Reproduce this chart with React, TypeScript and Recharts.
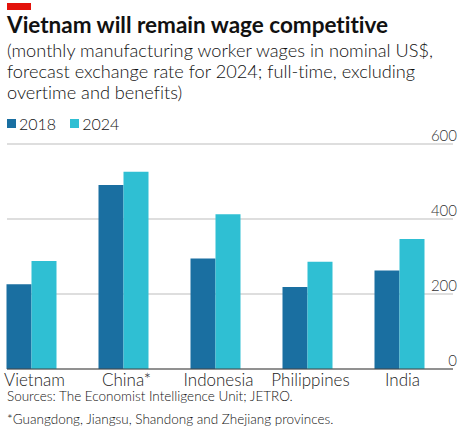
import React from "react";
import { BarChart, Bar, XAxis, YAxis, CartesianGrid } from "recharts";

const countries = ["Vietnam", "China*", "Indonesia", "Philippines", "India"];
const wages2018 = [226, 491, 295, 219, 263];
const wages2024 = [288, 526, 413, 286, 347];
const yTicks = [0, 200, 400, 600];

const series = [
  { key: "y2018", name: "2018", color: "#1a6fa1" },
  { key: "y2024", name: "2024", color: "#2fbfd3" },
];

const data = countries.map((c, i) => ({
  country: c,
  y2018: wages2018[i],
  y2024: wages2024[i],
}));

const font = "Lato, 'Open Sans', sans-serif";

const YTick = (props: any) => {
  const { y, payload } = props;
  return (
    <text x={457} y={y - 3} textAnchor="end" fontSize={15} fill="#333" fontFamily={font} fontWeight={300}>
      {payload.value}
    </text>
  );
};

const XTick = (props: any) => {
  const { x, y, payload } = props;
  return (
    <text x={x + 3} y={y + 9} textAnchor="middle" fontSize={17} fill="#222" fontFamily={font} fontWeight={300}>
      {payload.value}
    </text>
  );
};

export default function App() {
  return (
    <div
      style={{
        position: "absolute",
        left: 0,
        top: 0,
        width: 467,
        height: 438,
        background: "#fff",
        fontFamily: font,
        color: "#111",
        fontVariantLigatures: "none",
      }}
    >
      <div style={{ position: "absolute", left: 7, top: 3, width: 24, height: 7, background: "#e3120b" }} />
      <div style={{ position: "absolute", left: 7, top: 11, fontSize: 22.5, fontWeight: 700, whiteSpace: "nowrap" }}>
        Vietnam will remain wage competitive
      </div>
      <div style={{ position: "absolute", left: 7, top: 40, fontSize: 18.2, fontWeight: 300, lineHeight: "21px", width: 460 }}>
        (monthly manufacturing worker wages in nominal US$,
        <br />
        forecast exchange rate for 2024; full-time, excluding
        <br />
        overtime and benefits)
      </div>
      <div style={{ position: "absolute", left: 7, top: 114, display: "flex", alignItems: "center", fontSize: 16, fontWeight: 300 }}>
        {series.map((s) => (
          <div key={s.key} style={{ display: "flex", alignItems: "center", marginRight: 14 }}>
            <span style={{ display: "inline-block", width: 9, height: 9, background: s.color, marginRight: 3 }} />
            {s.name}
          </div>
        ))}
      </div>
      <div style={{ position: "absolute", left: 0, top: 0 }}>
        <BarChart
          width={467}
          height={400}
          data={data}
          margin={{ top: 144, right: 0, bottom: 11, left: 7 }}
          barGap={0}
          barSize={25}
        >
          <CartesianGrid vertical={false} stroke="#bdbdbd" strokeWidth={1} />
          <XAxis
            dataKey="country"
            height={20}
            padding={{ left: -21.5, right: 7.5 }}
            tickLine={false}
            axisLine={{ stroke: "#444", strokeWidth: 1 }}
            tick={<XTick />}
            interval={0}
          />
          <YAxis
            orientation="right"
            width={14}
            domain={[0, 600]}
            ticks={yTicks}
            axisLine={false}
            tickLine={false}
            tick={<YTick />}
            interval={0}
          />
          {series.map((s) => (
            <Bar key={s.key} dataKey={s.key} name={s.name} fill={s.color} isAnimationActive={false} />
          ))}
        </BarChart>
      </div>
      <div style={{ position: "absolute", left: 7, top: 388, fontSize: 13.5, fontWeight: 300, whiteSpace: "nowrap" }}>
        Sources: The Economist Intelligence Unit; JETRO.
      </div>
      <div style={{ position: "absolute", left: 7, top: 411, fontSize: 13.5, fontWeight: 300, whiteSpace: "nowrap" }}>
        *Guangdong, Jiangsu, Shandong and Zhejiang provinces.
      </div>
    </div>
  );
}
